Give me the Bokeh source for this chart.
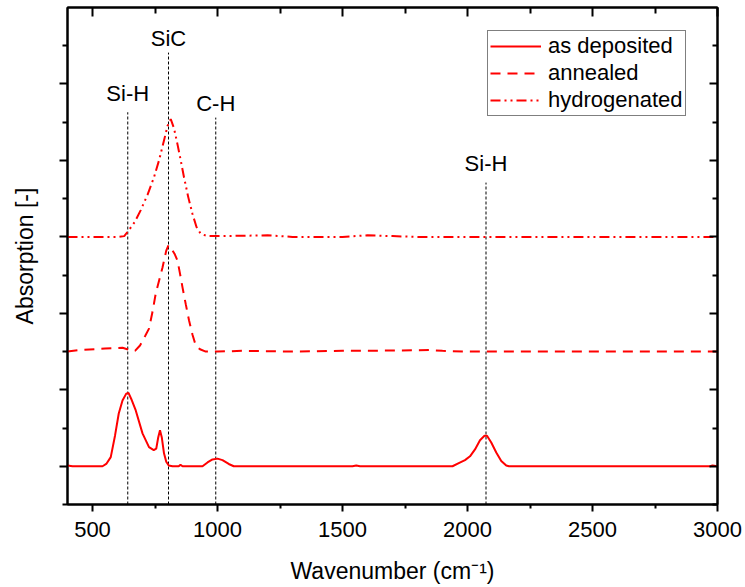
from bokeh.plotting import figure
from bokeh.models import Range1d, LinearAxis, FixedTicker, Legend, LegendItem
from bokeh.core.properties import value
from bokeh.embed import file_html
from bokeh.resources import INLINE

# ---------------- data ----------------
x_dep = [400, 420, 540, 555, 573, 590, 605, 620, 635, 644, 655, 673, 700, 726, 745, 755, 763,
         770, 777, 786, 795, 805, 820, 845, 852, 860, 940, 960, 980, 1000, 1020, 1045, 1065,
         1300, 1540, 1555, 1570, 1940, 1965, 1990, 2010, 2030, 2050, 2068, 2078, 2095, 2115,
         2135, 2155, 2166, 2970, 2980, 3000]
y_dep = [0.01, 0.0, 0.0, 0.03, 0.12, 0.40, 0.69, 0.86, 0.95, 0.96, 0.88, 0.73, 0.43, 0.25, 0.21,
         0.23, 0.38, 0.47, 0.38, 0.17, 0.06, 0.01, 0.0, 0.0, 0.02, 0.0, 0.0, 0.05, 0.09, 0.10,
         0.08, 0.03, 0.0, 0.0, 0.0, 0.01, 0.0, 0.0, 0.04, 0.08, 0.13, 0.22, 0.34, 0.40, 0.40,
         0.31, 0.18, 0.07, 0.01, 0.0, 0.0, 0.01, 0.0]

x_ann = [400, 450, 550, 620, 650, 670, 690, 710, 726, 740, 753, 768, 780, 795, 804, 815, 828,
         840, 850, 860, 873, 886, 900, 913, 930, 953, 1000, 1100, 1300, 1500, 1600, 1850, 1900,
         2000, 2500, 3000]
y_ann = [1.50, 1.52, 1.54, 1.55, 1.52, 1.51, 1.58, 1.70, 1.80, 2.02, 2.26, 2.45, 2.60, 2.82,
         2.89, 2.85, 2.78, 2.69, 2.52, 2.34, 2.12, 1.91, 1.72, 1.58, 1.53, 1.50, 1.50, 1.51,
         1.50, 1.51, 1.51, 1.52, 1.51, 1.50, 1.50, 1.50]

x_hyd = [400, 600, 627, 646, 670, 693, 720, 746, 766, 786, 800, 813, 826, 840, 853, 866, 883,
         900, 916, 933, 960, 1000, 1200, 1300, 1500, 1600, 1700, 1800, 2000, 3000]
y_hyd = [3.0, 3.0, 3.01, 3.09, 3.20, 3.35, 3.55, 3.78, 4.00, 4.26, 4.45, 4.54, 4.42, 4.21, 4.00,
         3.78, 3.52, 3.30, 3.13, 3.04, 3.01, 3.01, 3.02, 3.0, 3.0, 3.02, 3.01, 3.0, 3.0, 3.0]

series_names = ["as deposited", "annealed", "hydrogenated"]

mark_x = [641, 804, 993, 2074]
mark_top = [4.63, 5.41, 4.56, 3.71]
mark_label = ["Si-H", "SiC", "C-H", "Si-H"]
mark_label_y = [4.88, 5.59, 4.74, 3.96]

x_major = [500, 1000, 1500, 2000, 2500, 3000]
x_minor = [750, 1250, 1750, 2250, 2750]
y_major = [0, 1, 2, 3, 4, 5]
y_minor = [-0.5, 0.5, 1.5, 2.5, 3.5, 4.5, 5.5]

FONT = "Liberation Sans"
FS = "22px"

p = figure(width=745, height=587, output_backend="svg", toolbar_location=None,
           x_range=Range1d(400, 3000), y_range=Range1d(-0.5, 6),
           min_border_left=67, min_border_right=28, min_border_top=7, min_border_bottom=83)
p.xgrid.visible = False
p.ygrid.visible = False
p.outline_line_color = "black"
p.outline_line_width = 2
p.background_fill_color = "white"
p.border_fill_color = "white"

# axes
xt = FixedTicker(ticks=x_major, minor_ticks=x_minor)
yt = FixedTicker(ticks=y_major, minor_ticks=y_minor)

bx = p.xaxis[0]
bx.ticker = xt
bx.axis_label = "Wavenumber (cm\u207b\u00b9)"
by = p.yaxis[0]
by.ticker = yt
by.axis_label = "Absorption [-]"

top = LinearAxis(ticker=xt)
right = LinearAxis(ticker=yt)
p.add_layout(top, "above")
p.add_layout(right, "right")

for ax in (bx, by, top, right):
    ax.axis_line_width = 2
    ax.axis_line_color = "black"
    ax.major_tick_line_width = 2
    ax.minor_tick_line_width = 2
    ax.major_tick_line_color = "black"
    ax.minor_tick_line_color = "black"
    ax.major_label_text_font = FONT
    ax.major_label_text_font_size = FS
    ax.major_label_text_color = "black"
    ax.axis_label_text_font = FONT
    ax.axis_label_text_font_size = "23px"
    ax.axis_label_text_font_style = "normal"
    ax.axis_label_text_color = "black"

bx.major_tick_out = 7
bx.minor_tick_out = 4
bx.major_tick_in = 0
bx.minor_tick_in = 0
bx.major_label_standoff = 10
bx.axis_label_standoff = 18

# axes that carry ticks only, no tick labels
for ax in (by, top, right):
    ax.major_label_text_font_size = "0px"
    ax.major_label_text_color = None
    ax.major_label_standoff = 0

by.major_tick_out = 8
by.minor_tick_out = 5
by.major_tick_in = 0
by.minor_tick_in = 0
by.axis_label_standoff = 22

top.major_tick_in = 9
top.minor_tick_in = 6
top.major_tick_out = 0
top.minor_tick_out = 0

right.major_tick_in = 8
right.minor_tick_in = 5
right.major_tick_out = 0
right.minor_tick_out = 0

# marker lines and labels
p.segment(x0=mark_x, y0=[-0.5] * len(mark_x), x1=mark_x, y1=mark_top,
          line_color="black", line_width=1, line_dash="3 2")
p.text(x=mark_x, y=mark_label_y, text=mark_label, text_font=value(FONT),
       text_font_size=FS, text_align="center", text_baseline="middle",
       text_color="black")

# curves
r1 = p.line(x_dep, y_dep, line_color="#ff0000", line_width=2)
r2 = p.line(x_ann, y_ann, line_color="#ff0000", line_width=2, line_dash="10 7")
r3 = p.line(x_hyd, y_hyd, line_color="#ff0000", line_width=2, line_dash="10 4 2 4 2 4")

legend = Legend(items=[LegendItem(label=series_names[0], renderers=[r1]),
                       LegendItem(label=series_names[1], renderers=[r2]),
                       LegendItem(label=series_names[2], renderers=[r3])],
                location=(420, 388))
legend.label_text_font = FONT
legend.label_text_font_size = FS
legend.label_text_color = "black"
legend.glyph_width = 51
legend.glyph_height = 20
legend.label_height = 23
legend.label_standoff = 7
legend.spacing = 1
legend.padding = 2
legend.margin = 0
legend.border_line_color = "black"
legend.border_line_width = 1
legend.background_fill_alpha = 1.0
p.add_layout(legend, "center")

open("out.html", "w").write(file_html(p, INLINE))
